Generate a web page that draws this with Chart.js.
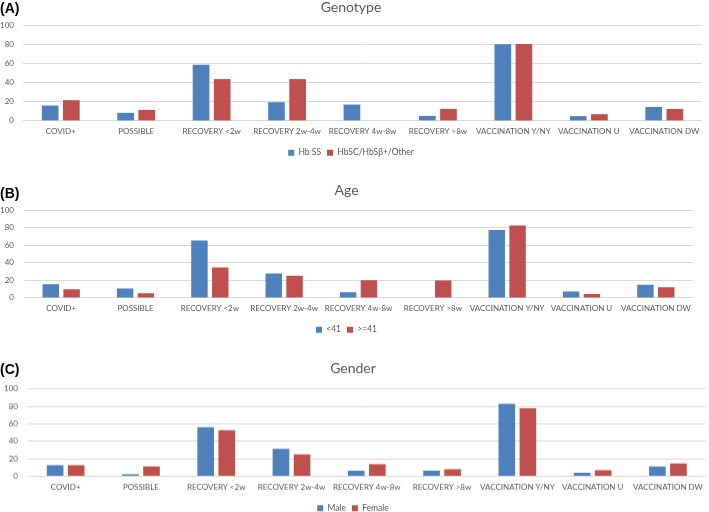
<!DOCTYPE html>
<html>
<head>
<meta charset="utf-8">
<script src="https://cdn.jsdelivr.net/npm/chart.js@4.4.0/dist/chart.umd.min.js"></script>
<style>
  html, body { margin: 0; padding: 0; background: #ffffff; }
  body { width: 709px; height: 512px; position: relative; overflow: hidden; }
  .panel { position: absolute; left: 0; width: 709px; }
  .tag { position: absolute; left: 0; font: bold 14px "Liberation Sans", Arial, sans-serif; color: #000; }
</style>
</head>
<body>
<div class="panel" style="top:-1px;height:168px;"><canvas id="cA"></canvas></div>
<div class="panel" style="top:181.6px;height:162px;"><canvas id="cB"></canvas></div>
<div class="panel" style="top:360px;height:161.5px;"><canvas id="cC"></canvas></div>
<div class="tag" style="top:0px;">(A)</div>
<div class="tag" style="top:185px;">(B)</div>
<div class="tag" style="top:361px;">(C)</div>
<script>
const categories = ["COVID+", "POSSIBLE", "RECOVERY <2w", "RECOVERY 2w-4w", "RECOVERY 4w-8w", "RECOVERY >8w", "VACCINATION Y/NY", "VACCINATION U", "VACCINATION DW"];
const yTicks = [0, 20, 40, 60, 80, 100];

const genotypeTitle = "Genotype";
const hbSS = [16, 8.4, 58.5, 19.5, 17, 5.2, 80, 5, 14.6];
const hbSCOther = [21.6, 11.5, 43.6, 43.6, 0, 12.5, 80.3, 7, 12.5];

const ageTitle = "Age";
const ageUnder41 = [15.6, 10.7, 65.6, 27.8, 6.5, 0, 77.5, 7.3, 14.9];
const ageOver41 = [9.9, 5.3, 34.7, 25.2, 20.2, 20, 82.8, 4.6, 12.2];

const genderTitle = "Gender";
const male = [12.7, 2.3, 56.2, 31.2, 6.2, 6.2, 83, 3.8, 11.2];
const female = [12.7, 11.2, 52.7, 25, 13.8, 8.1, 77.6, 6.9, 14.6];

const BLUE = "#4F81BD";
const RED = "#C0504D";
const FONT = "Lato, 'Open Sans', sans-serif";
const GRAY = "#595959";

function makeChart(id, title, names, series, lay) {
  const ctx = document.getElementById(id);
  return new Chart(ctx, {
    type: "bar",
    data: {
      labels: categories,
      datasets: [
        { label: names[0], data: series[0], backgroundColor: BLUE, categoryPercentage: 0.56, barPercentage: 0.79 },
        { label: names[1], data: series[1], backgroundColor: RED, categoryPercentage: 0.56, barPercentage: 0.79 }
      ]
    },
    options: {
      responsive: true,
      maintainAspectRatio: false,
      animation: false,
      layout: { padding: { left: 0, right: lay.right, top: 0, bottom: 0 } },
      plugins: {
        title: { display: true, text: title, color: GRAY, font: { family: FONT, size: 14, weight: "normal" }, padding: { top: 0, bottom: lay.titlePad } },
        legend: {
          position: "bottom",
          labels: { color: GRAY, font: { family: FONT, size: 8.5 }, boxWidth: 6, boxHeight: 6, padding: 6 }
        },
        tooltip: { enabled: false }
      },
      scales: {
        x: {
          grid: { display: false, drawTicks: false },
          border: { display: false },
          ticks: { color: GRAY, font: { family: FONT, size: 8 }, padding: 6, maxRotation: 0, autoSkip: false }
        },
        y: {
          min: 0, max: 100,
          afterFit: (s) => { s.width = lay.left; },
          afterBuildTicks: (s) => { s.ticks = yTicks.map(v => ({ value: v })); },
          grid: { color: "#d9d9d9", drawTicks: false, lineWidth: 1 },
          border: { display: false },
          ticks: { color: GRAY, font: { family: FONT, size: 8 }, padding: lay.tickPad }
        }
      }
    }
  });
}

makeChart("cA", genotypeTitle, ["Hb SS", "HbSC/HbSβ+/Other"], [hbSS, hbSCOther], { left: 23, right: 7, titlePad: 9.2, tickPad: 9 });
makeChart("cB", ageTitle, ["<41", ">=41"], [ageUnder41, ageOver41], { left: 24, right: 16, titlePad: 11.6, tickPad: 10 });
makeChart("cC", genderTitle, ["Male", "Female"], [male, female], { left: 28, right: 3, titlePad: 11.9, tickPad: 10 });
</script>
</body>
</html>
